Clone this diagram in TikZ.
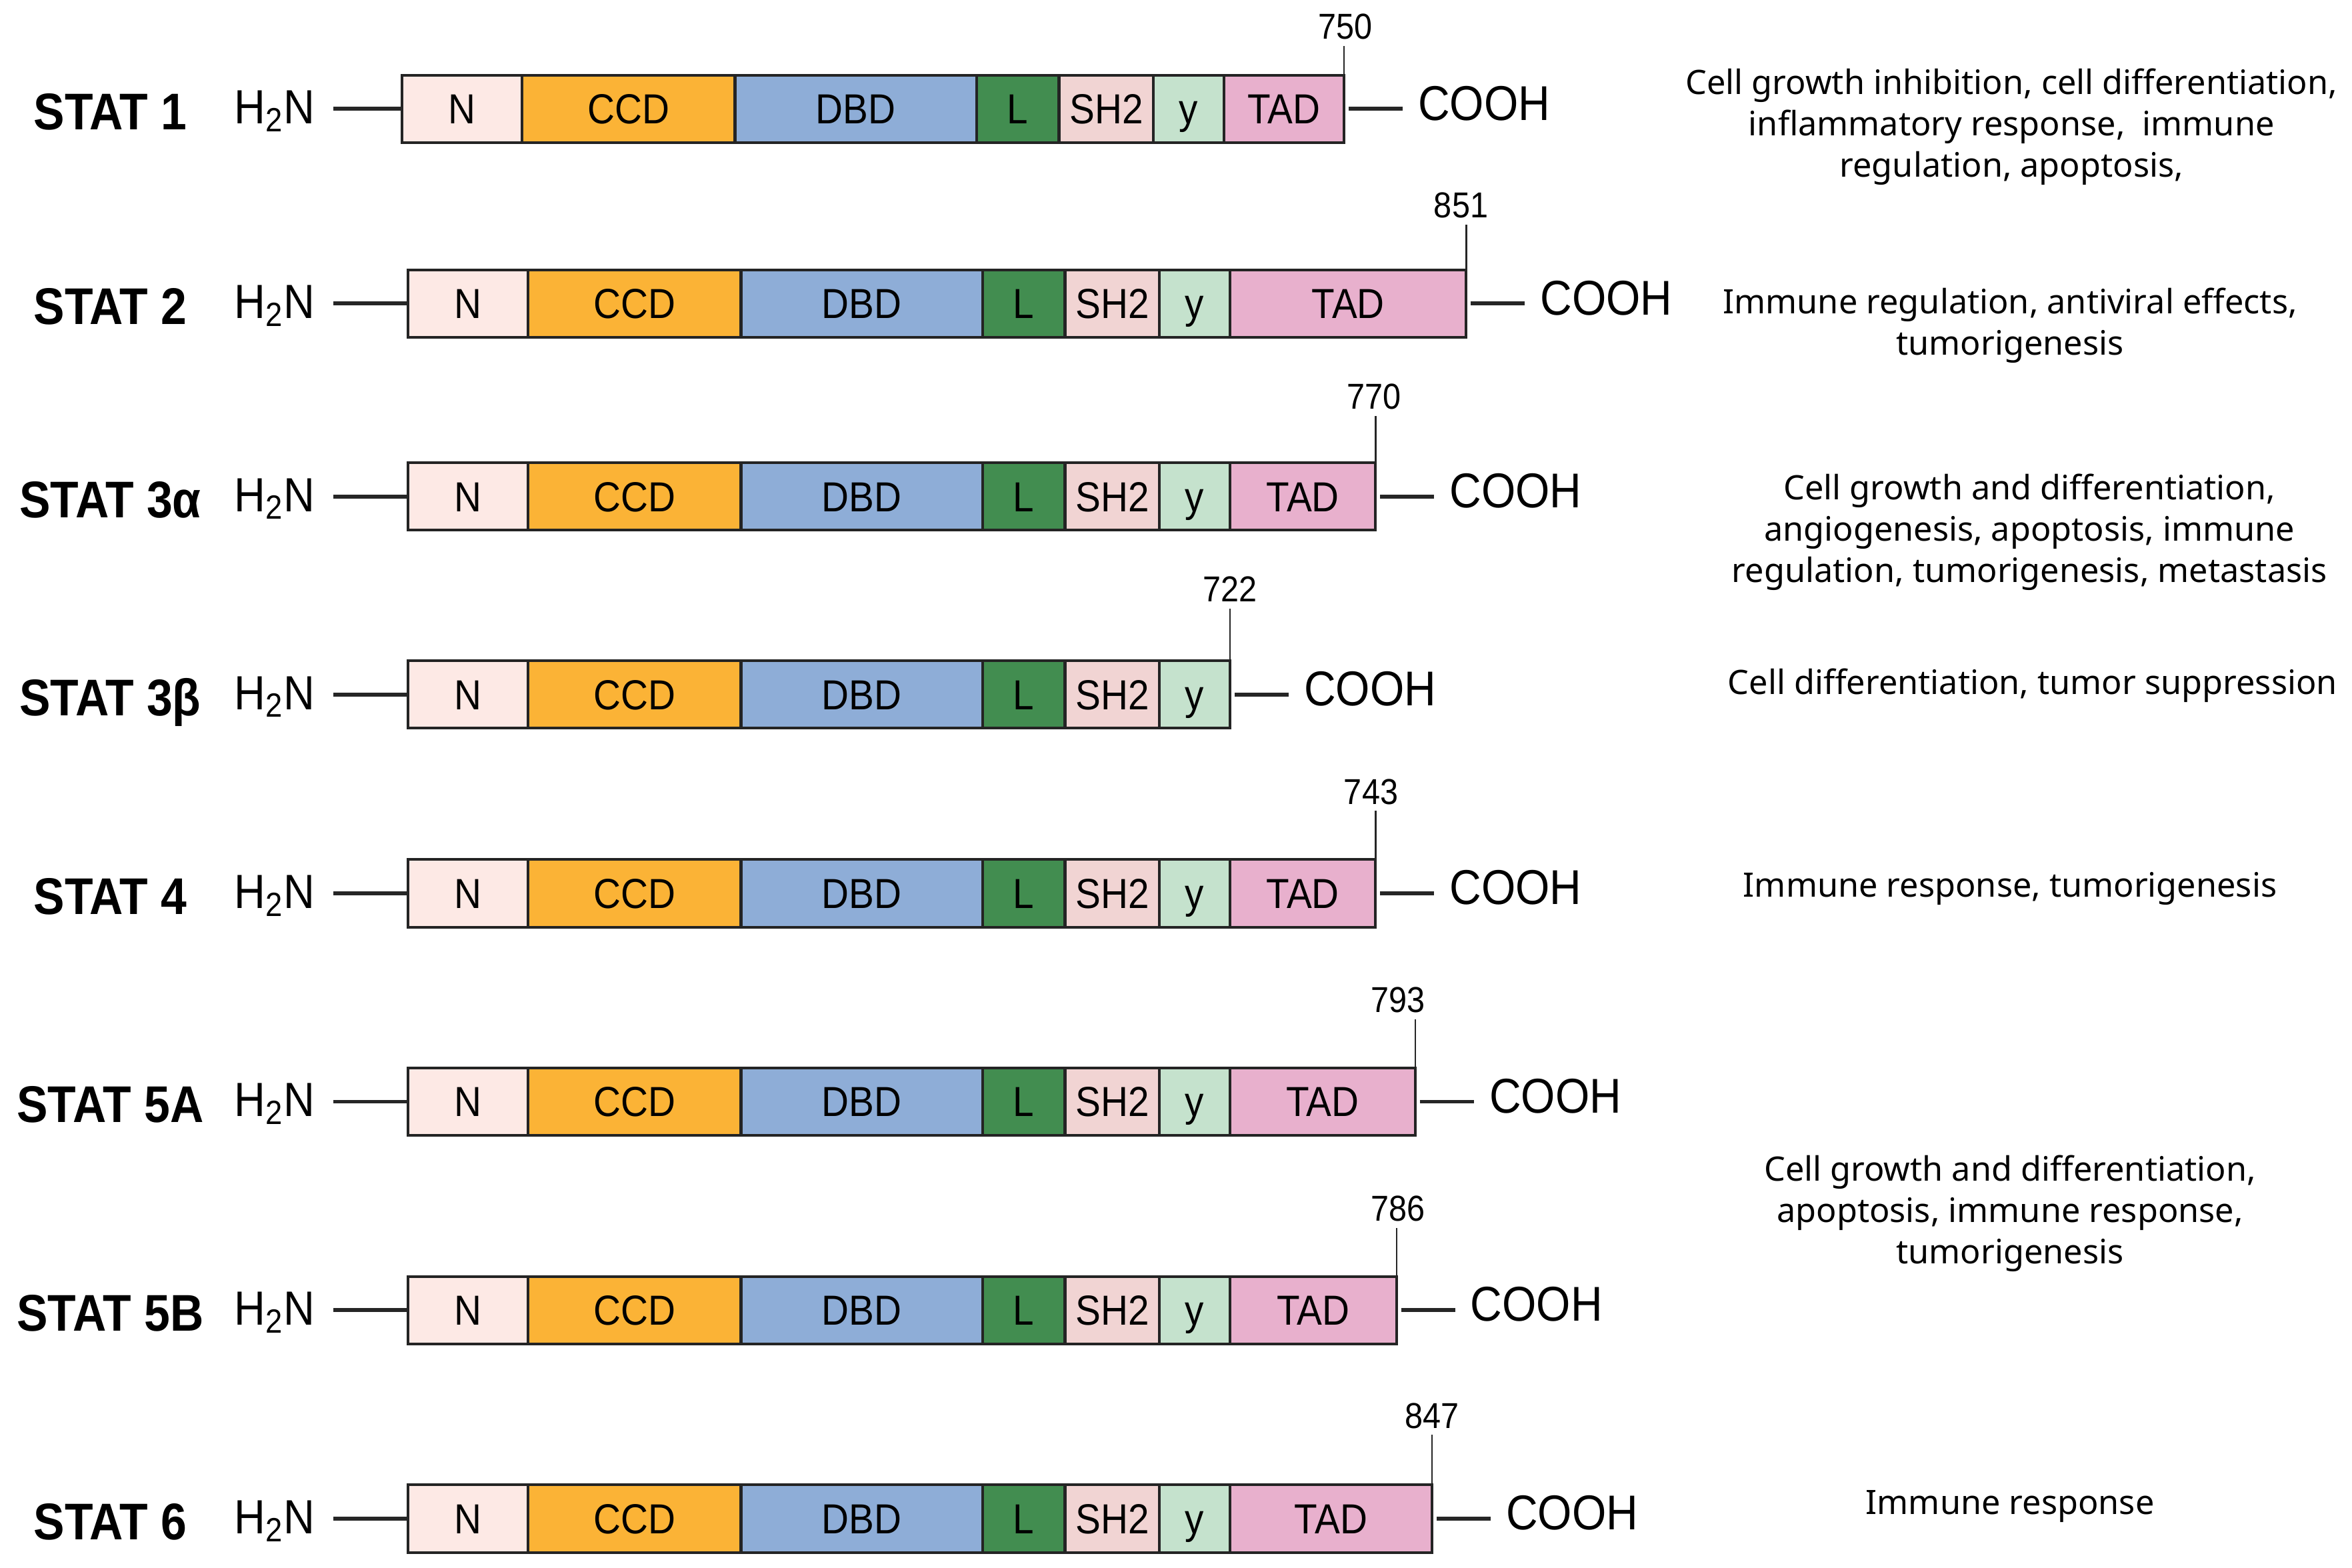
\documentclass[tikz,border=0pt]{standalone}
\usepackage{fontspec}
\setmainfont{Liberation Sans}
\newfontfamily\narrowfont{Liberation Sans}[FakeStretch=0.9]
\newfontfamily\descfont{Noto Sans}
\usetikzlibrary{positioning}
\definecolor{edge}{HTML}{242424}
\definecolor{colN}{HTML}{FDE9E5}
\definecolor{colCCD}{HTML}{FBB336}
\definecolor{colDBD}{HTML}{8EADD7}
\definecolor{colL}{HTML}{428D50}
\definecolor{colSH}{HTML}{F1D4D3}
\definecolor{colY}{HTML}{C5E2CD}
\definecolor{colTAD}{HTML}{E8B0CD}
\begin{document}
\begin{tikzpicture}[x=0.5pt, y=-0.5pt]
\tikzset{
    dom/.style={draw=edge, line width=0.9pt, minimum height=22.5pt, inner sep=0pt, outer sep=0pt,
        font=\narrowfont\fontsize{14}{16}\selectfont, text height=10pt, text depth=0pt},
    stat/.style={anchor=base, inner sep=0pt, font=\narrowfont\fontsize{17.2}{20}\selectfont\bfseries},
    amine/.style={anchor=base, inner sep=0pt, font=\narrowfont\fontsize{16}{19}\selectfont},
    cooh/.style={anchor=base west, inner sep=0pt, font=\narrowfont\fontsize{16.3}{19}\selectfont},
    num/.style={anchor=base, inner sep=0pt, font=\narrowfont\fontsize{12}{14}\selectfont},
    role/.style={anchor=north, inner sep=0pt, align=center, font=\descfont\fontsize{11.2}{13.75}\selectfont},
    bond/.style={line width=1.3pt, draw=black!85},
    tick/.style={line width=0.55pt, draw=black!85},
}
\useasboundingbox (0,0) rectangle (1568,1045);
% #1 row, #2 left end of the chain, #3 middle of the row
\def\Row#1#2#3{
  \node[dom, fill=colN,   minimum width=40pt, anchor=west] (n#1) at (#2,#3) {N};
  \node[dom, fill=colCCD, minimum width=71pt,   right=0pt of n#1]   (ccd#1) {CCD};
  \node[dom, fill=colDBD, minimum width=80.5pt, right=0pt of ccd#1] (dbd#1) {DBD};
  \node[dom, fill=colL,   minimum width=27.5pt, right=0pt of dbd#1] (l#1)   {L};
  \node[dom, fill=colSH,  minimum width=31.5pt, right=0pt of l#1]   (sh#1)  {SH2};
  \node[dom, fill=colY,   minimum width=23.5pt, right=0pt of sh#1]  (y#1)   {y};
  \node[amine] (h#1) at (183,#3+10) {H\textsubscript{2}N};
  \draw[bond] (n#1.west) -- ([xshift=6pt]h#1.east |- n#1.west);
}
% #1 row, #2 last domain of the chain
\def\Tail#1#2{
  \node[cooh] (c#1) at ([xshift=24.5pt, yshift=-3.7pt]#2.east) {COOH};
  \draw[bond] ([xshift=1.5pt]#2.east) -- ([xshift=-5pt]c#1.west |- #2.east);
  \draw[tick] (#2.north east) -- ([yshift=-2pt]#2.north east |- m#1.south);
}

% The domain chains, one row for each STAT.
\Row{1}{268}{72.6}
\node[dom, fill=colTAD, minimum width=40pt,    right=0pt of y1] (tad1) {TAD};
\Row{2}{272}{202.4}
\node[dom, fill=colTAD, minimum width=78.75pt, right=0pt of y2] (tad2) {TAD};
\Row{3}{272}{331}
\node[dom, fill=colTAD, minimum width=48.5pt,  right=0pt of y3] (tad3) {TAD};
\Row{4}{272}{463}
\Row{5}{272}{595.5}
\node[dom, fill=colTAD, minimum width=48.5pt,  right=0pt of y5] (tad5) {TAD};
\Row{6}{272}{734.4}
\node[dom, fill=colTAD, minimum width=61.75pt, right=0pt of y6] (tad6) {TAD};
\Row{7}{272}{873.4}
\node[dom, fill=colTAD, minimum width=55.5pt,  right=0pt of y7] (tad7) {TAD};
\Row{8}{272}{1012.4}
\node[dom, fill=colTAD, minimum width=67.3pt,  right=0pt of y8] (tad8) {TAD};

% Names on the left.
\node[stat] (s1) at (73.5,86.5)   {STAT 1};
\node[stat] (s2) at (73.5,216.3)  {STAT 2};
\node[stat] (s3) at (73.5,344.9)  {STAT 3α};
\node[stat] (s4) at (73.5,476.9)  {STAT 3β};
\node[stat] (s5) at (73.5,609.4)  {STAT 4};
\node[stat] (s6) at (73.5,748.3)  {STAT 5A};
\node[stat] (s7) at (73.5,887.3)  {STAT 5B};
\node[stat] (s8) at (73.5,1026.3) {STAT 6};

% Chain lengths above the C-terminal ends.
\node[num] (m1) at (897,26.2)  {750};
\node[num] (m2) at (974,145.2) {851};
\node[num] (m3) at (916,272.7) {770};
\node[num] (m4) at (820,401.3) {722};
\node[num] (m5) at (914,536)   {743};
\node[num] (m6) at (932,675)   {793};
\node[num] (m7) at (932,814)   {786};
\node[num] (m8) at (954.6,952) {847};

\Tail{1}{tad1}
\Tail{2}{tad2}
\Tail{3}{tad3}
\Tail{4}{y4}
\Tail{5}{tad5}
\Tail{6}{tad6}
\Tail{7}{tad7}
\Tail{8}{tad8}

% Functions on the right.
\node[role] (f1) at (1341,45.5)  {Cell growth inhibition, cell differentiation,\\ inflammatory response,\ \ immune\\ regulation, apoptosis,};
\node[role] (f2) at (1340,191.5) {Immune regulation, antiviral effects,\\ tumorigenesis};
\node[role] (f3) at (1353,315.5) {Cell growth and differentiation,\\ angiogenesis, apoptosis, immune\\ regulation, tumorigenesis, metastasis};
\node[role] (f4) at (1355,445.5) {Cell differentiation, tumor suppression};
\node[role] (f5) at (1340,581)   {Immune response, tumorigenesis};
\node[role] (f6) at (1340,770)   {Cell growth and differentiation,\\ apoptosis, immune response,\\ tumorigenesis};
\node[role] (f8) at (1340,993)   {Immune response};
\end{tikzpicture}
\end{document}
